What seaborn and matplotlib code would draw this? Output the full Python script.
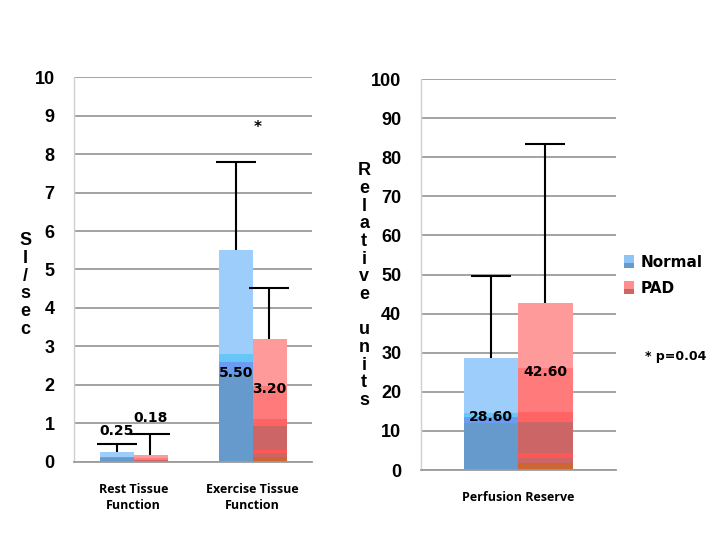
import numpy as np
import pandas as pd
import matplotlib
matplotlib.use('Agg')
import matplotlib.pyplot as plt
from matplotlib.patches import Patch, Rectangle
from matplotlib.legend_handler import HandlerBase
import seaborn as sns

# --- data ---
groups = ['Normal', 'PAD']

tissue_categories = ['Rest Tissue\nFunction', 'Exercise Tissue\nFunction']
tissue_normal = [0.25, 5.50]
tissue_pad = [0.18, 3.20]
tissue_normal_upper = [0.46, 7.80]   # top of the error bar
tissue_pad_upper = [0.72, 4.53]

reserve_categories = ['Perfusion Reserve']
reserve_normal = [28.60]
reserve_pad = [42.60]
reserve_normal_upper = [49.6]
reserve_pad_upper = [83.4]

# --- styling ---
sns.set_style('white')
plt.rcParams['font.family'] = ['Liberation Sans', 'DejaVu Sans']
plt.rcParams['text.color'] = 'black'

GRID = '#9c9c9c'
base_colors = {'Normal': '#8fc4f5', 'PAD': '#ff8e8e'}
# vertical colour bands (fraction of bar height, from bottom) that mimic the Excel fill
bands = {
    'Normal': [(0.00, 0.42, '#6699cc'), (0.42, 0.47, '#6a9cf2'),
               (0.47, 0.51, '#66c6f7'), (0.51, 1.00, '#9dcdfb')],
    'PAD': [(0.00, 0.04, '#cc6633'), (0.04, 0.07, '#cc6666'),
            (0.07, 0.10, '#ff5656'), (0.10, 0.29, '#cc6666'),
            (0.29, 0.35, '#ff6464'), (0.35, 0.61, '#ff7b7b'),
            (0.61, 1.00, '#ff9a9a')],
}
swatch = {'Normal': ('#8ec5f5', '#6699cc'), 'PAD': ('#ff8e8e', '#cc6666')}


def band_image(levels, n=400):
    img = np.zeros((n, 1, 4))
    for r in range(n):
        frac = 1 - (r + 0.5) / n
        for lo, hi, c in levels:
            if lo <= frac <= hi:
                img[r, 0] = matplotlib.colors.to_rgba(c)
    return img


def draw_panel(ax, cats, normal, pad, normal_upper, pad_upper, ymax, step, label_y):
    df = pd.DataFrame({
        'category': cats * 2,
        'group': ['Normal'] * len(cats) + ['PAD'] * len(cats),
        'value': normal + pad,
        'upper': normal_upper + pad_upper,
    })
    sns.barplot(data=df, x='category', y='value', hue='group', order=cats,
                hue_order=groups, palette=base_colors, width=0.56,
                errorbar=None, legend=False, linewidth=0, ax=ax)
    ax.set_ylim(0, ymax)
    xlim = ax.get_xlim()

    for gi, (g, cont) in enumerate(zip(groups, ax.containers)):
        sub = df[df['group'] == g]
        img = band_image(bands[g])
        for bi, (bar, (_, row)) in enumerate(zip(cont.patches, sub.iterrows())):
            x0, w = bar.get_x(), bar.get_width()
            h = bar.get_height()
            im = ax.imshow(img, extent=[x0, x0 + w, 0, h], aspect='auto',
                           origin='upper', interpolation='nearest',
                           zorder=bar.get_zorder() + 0.1)
            im.set_clip_path(bar)
            xc = x0 + w / 2
            eb = ax.errorbar([xc], [row['value']],
                             yerr=[[0], [row['upper'] - row['value']]],
                             fmt='none', ecolor='black', elinewidth=1.5,
                             capsize=14.5, capthick=1.5, zorder=4)
            eb[1][0].set_visible(False)
            ax.text(xc, label_y[gi][bi], f"{row['value']:.2f}", ha='center',
                    va='center', fontsize=10, fontweight='bold',
                    family='DejaVu Sans', color='black', zorder=5)

    ax.set_xlim(xlim)
    ax.set_ylim(0, ymax)
    ax.set_yticks(np.arange(0, ymax + step / 2, step))
    ax.yaxis.grid(True, color=GRID, linewidth=1.3)
    ax.set_axisbelow(True)
    ax.set_xlabel('')
    ax.set_ylabel('')
    for s in ['top', 'right']:
        ax.spines[s].set_visible(False)
    ax.spines['left'].set_color('#cfcfcf')
    ax.spines['left'].set_linewidth(1.0)
    ax.spines['bottom'].set_color(GRID)
    ax.spines['bottom'].set_linewidth(1.3)
    ax.set_xticks(np.arange(-0.5, len(cats)), minor=True)
    ax.tick_params(axis='x', which='minor', length=5, width=1.0,
                   color='#b5b5b5', direction='out')
    ax.tick_params(axis='x', which='major', length=0, pad=15,
                   labelcolor='black')
    ax.tick_params(axis='y', length=5, width=1.3, color=GRID, pad=9,
                   labelcolor='black')
    for t in ax.get_xticklabels():
        t.set_fontfamily('Open Sans')
        t.set_fontweight('bold')
        t.set_fontsize(9)
        t.set_linespacing(1.35)
    for t in ax.get_yticklabels():
        t.set_fontweight('bold')
        t.set_fontsize(13)


class SplitSwatch(HandlerBase):
    def create_artists(self, legend, orig_handle, xdescent, ydescent,
                       width, height, fontsize, trans):
        light = orig_handle.get_facecolor()
        dark = orig_handle.get_edgecolor()
        top = Rectangle((-xdescent, -ydescent + height * 0.4), width,
                        height * 0.6, facecolor=light, edgecolor='none',
                        transform=trans)
        bottom = Rectangle((-xdescent, -ydescent), width, height * 0.4,
                           facecolor=dark, edgecolor='none', transform=trans)
        return [top, bottom]


fig = plt.figure(figsize=(7.2, 5.4), dpi=100)
ax1 = fig.add_axes([0.1028, 0.145, 0.3306, 0.712])
ax2 = fig.add_axes([0.5843, 0.1296, 0.2708, 0.724])

draw_panel(ax1, tissue_categories, tissue_normal, tissue_pad,
           tissue_normal_upper, tissue_pad_upper, 10, 1,
           label_y=[[0.80, 2.30], [1.14, 1.90]])
draw_panel(ax2, reserve_categories, reserve_normal, reserve_pad,
           reserve_normal_upper, reserve_pad_upper, 100, 10,
           label_y=[[13.5], [25.0]])

# significance marker
ax1.text(1.04, 8.7, '*', ha='center', va='center', fontsize=11,
         fontweight='bold', family='DejaVu Sans')

# stacked vertical axis titles
fig.text(0.035, 0.472, 'S\nI\n/\ns\ne\nc', ha='center', va='center',
         fontsize=13, fontweight='bold', linespacing=1.05)
fig.text(0.5056, 0.471, 'R\ne\nl\na\nt\ni\nv\ne\n \nu\nn\ni\nt\ns',
         ha='center', va='center', fontsize=13, fontweight='bold',
         linespacing=1.05)

handles = [Patch(facecolor=swatch[g][0], edgecolor=swatch[g][1]) for g in groups]
fig.legend(handles, groups, loc='upper left', bbox_to_anchor=(0.866, 0.528),
           frameon=False, handlelength=0.7, handleheight=0.9,
           handletextpad=0.45, labelspacing=0.7, borderpad=0,
           borderaxespad=0, handler_map={Patch: SplitSwatch()},
           prop={'family': 'DejaVu Sans', 'weight': 'bold', 'size': 11})

fig.text(0.896, 0.339, '* p=0.04', ha='left', va='center', fontsize=9,
         fontweight='bold', family='DejaVu Sans')

fig.savefig('out.png', dpi=100)
